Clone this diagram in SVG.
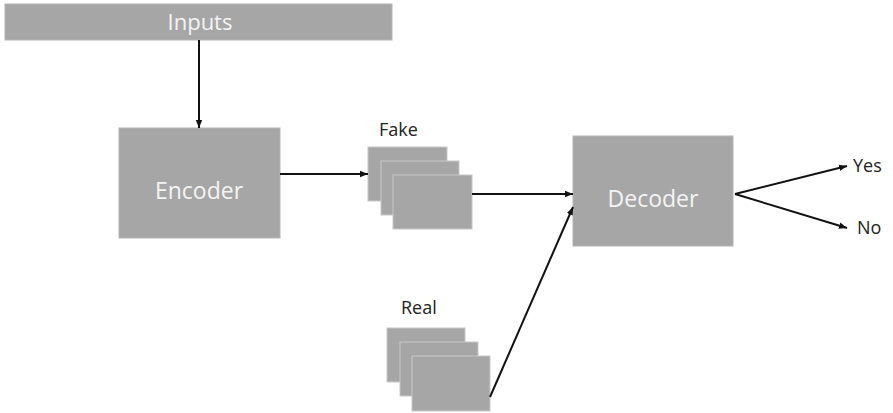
<svg xmlns="http://www.w3.org/2000/svg" width="893" height="413" viewBox="0 0 893 413">
  <defs>
    <marker id="arrow" viewBox="0 0 10 10" refX="10" refY="5" markerWidth="8" markerHeight="8" orient="auto" markerUnits="userSpaceOnUse">
      <path d="M0,1 L10,5 L0,9 z" fill="#111"/>
    </marker>
    <style>
      .box { fill: #a6a6a6; stroke: #b4b4b4; stroke-width: 1; }
      .frame { fill: #a6a6a6; stroke: #c8c8c8; stroke-width: 1; }
      .boxtext { font-family: "Open Sans", "Liberation Sans", sans-serif; fill: #f4f4f4; text-anchor: middle; }
      .label { font-family: "Open Sans", "Liberation Sans", sans-serif; fill: #222; font-size: 18px; }
      .edge { stroke: #111; stroke-width: 2; fill: none; marker-end: url(#arrow); }
    </style>
  </defs>
  <rect width="893" height="413" fill="#ffffff"/>

  <g id="inputs">
    <rect class="box" x="5" y="4" width="387" height="36"/>
    <text class="boxtext" x="200" y="30" font-size="22">Inputs</text>
  </g>

  <g id="encoder">
    <rect class="box" x="119" y="128" width="161" height="110"/>
    <text class="boxtext" x="199" y="199" font-size="23">Encoder</text>
  </g>

  <g id="fake">
    <text class="label" x="379" y="136">Fake</text>
    <rect class="frame" x="368" y="147" width="79" height="54"/>
    <rect class="frame" x="381" y="161" width="78" height="54"/>
    <rect class="frame" x="393" y="175" width="79" height="54"/>
  </g>

  <g id="real">
    <text class="label" x="401" y="314">Real</text>
    <rect class="frame" x="387" y="328" width="78" height="54"/>
    <rect class="frame" x="400" y="342" width="78" height="54"/>
    <rect class="frame" x="412" y="356" width="78" height="55"/>
  </g>

  <g id="decoder">
    <rect class="box" x="573" y="136" width="160" height="110"/>
    <text class="boxtext" x="653" y="207" font-size="23">Decoder</text>
  </g>

  <g id="yes">
    <text class="label" x="853" y="172">Yes</text>
  </g>
  <g id="no">
    <text class="label" x="857" y="234">No</text>
  </g>

  <g id="connectors">
    <line class="edge" x1="199" y1="40" x2="199" y2="128"/>
    <line class="edge" x1="280" y1="174" x2="368" y2="174"/>
    <line class="edge" x1="472" y1="194" x2="573" y2="194"/>
    <line class="edge" x1="490" y1="397" x2="573" y2="207"/>
    <line class="edge" x1="735" y1="194" x2="847" y2="166"/>
    <line class="edge" x1="735" y1="194" x2="847" y2="228"/>
  </g>
</svg>
